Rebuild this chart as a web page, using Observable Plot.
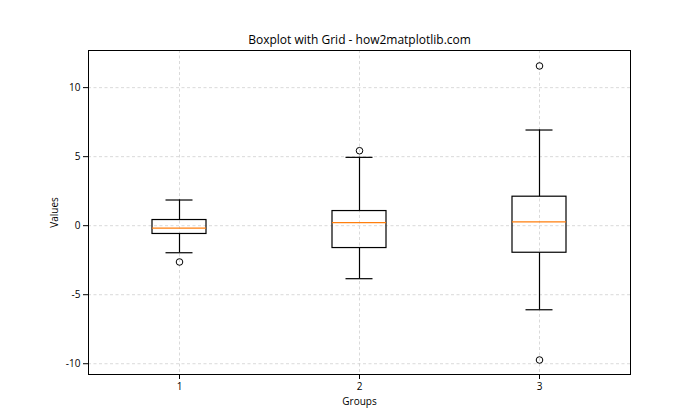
<!DOCTYPE html>
<html>
<head>
<meta charset="utf-8">
<script src="https://cdn.jsdelivr.net/npm/d3@7"></script>
<script src="https://cdn.jsdelivr.net/npm/@observablehq/plot@0.6"></script>
<style>
  html, body { margin: 0; padding: 0; background: #fff; }
  #chart svg { display: block; }
</style>
</head>
<body>
<div id="chart"></div>
<script>
const titleText = "Boxplot with Grid - how2matplotlib.com";
const xLabel = "Groups";
const yLabel = "Values";

const groups = [1, 2, 3];
const whiskerLow = [-1.96, -3.84, -6.09];
const q1 = [-0.60, -1.62, -1.96];
const median = [-0.17, 0.22, 0.27];
const q3 = [0.41, 1.06, 2.10];
const whiskerHigh = [1.86, 4.95, 6.93];

const outlierGroup = [1, 2, 3, 3];
const outlierValue = [-2.63, 5.43, 11.57, -9.73];

const yTicks = [-10, -5, 0, 5, 10];

const boxes = groups.map((g, i) => ({
  g, lo: whiskerLow[i], q1: q1[i], med: median[i], q3: q3[i], hi: whiskerHigh[i]
}));
const outliers = outlierGroup.map((g, i) => ({g, v: outlierValue[i]}));

const font = "'Open Sans', 'Noto Sans', sans-serif";

const chart = Plot.plot({
  width: 700,
  height: 420,
  marginTop: 50,
  marginBottom: 46,
  marginLeft: 88,
  marginRight: 70,
  style: {fontFamily: font, fontSize: "10px", color: "#000", background: "#fff"},
  x: {type: "band", domain: groups, paddingInner: 0.7, paddingOuter: 0.35},
  y: {domain: [-10.78, 12.69]},
  marks: [
    Plot.gridY(yTicks, {stroke: "#b0b0b0", strokeOpacity: 0.6, strokeWidth: 0.8, strokeDasharray: "3,2.5"}),
    Plot.gridX(groups, {stroke: "#b0b0b0", strokeOpacity: 0.6, strokeWidth: 0.8, strokeDasharray: "3,2.5"}),
    Plot.axisY({ticks: yTicks, tickSize: 5, tickPadding: 3, tickFormat: d => String(d),
      label: yLabel, labelAnchor: "center", labelArrow: "none", labelOffset: 38, fontSize: 10}),
    Plot.axisX({ticks: groups, tickSize: 5, tickPadding: 3, tickFormat: d => String(d),
      label: xLabel, labelAnchor: "center", labelArrow: "none", labelOffset: 30, fontSize: 10}),
    Plot.ruleX(boxes, {x: "g", y1: "lo", y2: "q1", stroke: "#000", strokeWidth: 1.2}),
    Plot.ruleX(boxes, {x: "g", y1: "q3", y2: "hi", stroke: "#000", strokeWidth: 1.2}),
    Plot.tickY(boxes, {x: "g", y: "lo", stroke: "#000", strokeWidth: 1.2, insetLeft: 13.5, insetRight: 13.5}),
    Plot.tickY(boxes, {x: "g", y: "hi", stroke: "#000", strokeWidth: 1.2, insetLeft: 13.5, insetRight: 13.5}),
    Plot.barY(boxes, {x: "g", y1: "q1", y2: "q3", fill: "none", stroke: "#000", strokeWidth: 1.2}),
    Plot.tickY(boxes, {x: "g", y: "med", stroke: "#ff7f0e", strokeWidth: 1.2}),
    Plot.dot(outliers, {x: "g", y: "v", r: 3.3, stroke: "#000", fill: "none", strokeWidth: 1}),
    Plot.frame({stroke: "#000", strokeWidth: 1}),
    Plot.text([titleText], {text: d => d, frameAnchor: "top", dy: -7, lineAnchor: "bottom",
      fontSize: 12, fill: "#000"})
  ]
});
document.getElementById("chart").appendChild(chart);
</script>
</body>
</html>
